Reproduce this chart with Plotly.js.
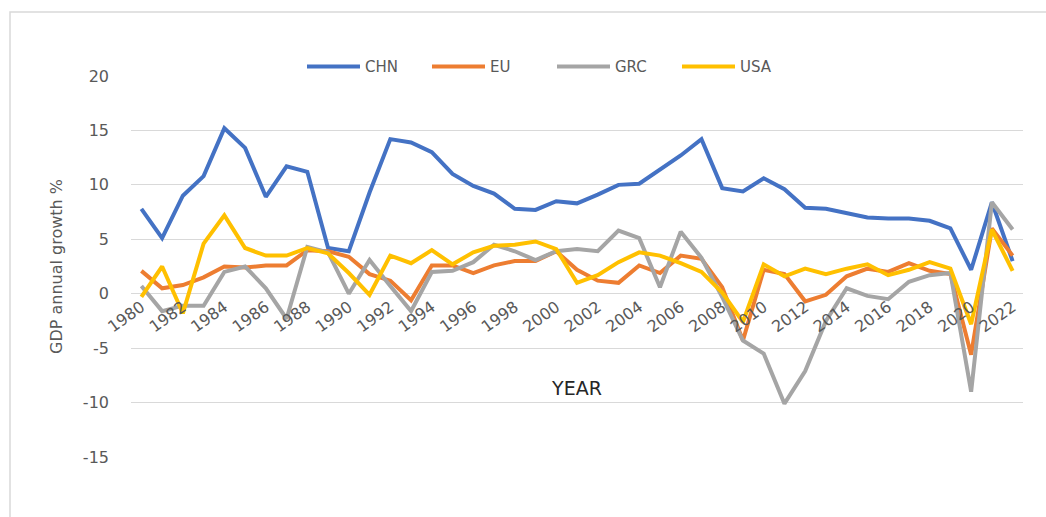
<!DOCTYPE html>
<html>
<head>
<meta charset="utf-8">
<script src="https://cdn.plot.ly/plotly-3.0.1.min.js"></script>
<style>
  html, body { margin: 0; padding: 0; background: #ffffff; }
  #chart { width: 1046px; height: 517px; }
</style>
</head>
<body>
<div id="chart"></div>
<script>
const years = [1980,1981,1982,1983,1984,1985,1986,1987,1988,1989,1990,1991,1992,1993,1994,1995,1996,1997,1998,1999,2000,2001,2002,2003,2004,2005,2006,2007,2008,2009,2010,2011,2012,2013,2014,2015,2016,2017,2018,2019,2020,2021,2022];

const chn = [7.8,5.1,9.0,10.8,15.2,13.4,8.9,11.7,11.2,4.2,3.9,9.3,14.2,13.9,13.0,11.0,9.9,9.2,7.8,7.7,8.5,8.3,9.1,10.0,10.1,11.4,12.7,14.2,9.7,9.4,10.6,9.6,7.9,7.8,7.4,7.0,6.9,6.9,6.7,6.0,2.2,8.4,3.0];
const eu  = [2.1,0.5,0.8,1.5,2.5,2.4,2.6,2.6,4.0,3.9,3.4,1.8,1.2,-0.6,2.6,2.6,1.9,2.6,3.0,3.0,3.9,2.2,1.2,1.0,2.6,1.9,3.5,3.2,0.6,-4.3,2.2,1.8,-0.7,-0.1,1.6,2.3,2.0,2.8,2.1,1.8,-5.6,6.0,3.5];
const grc = [0.7,-1.6,-1.1,-1.1,2.0,2.5,0.5,-2.3,4.3,3.8,0.0,3.1,0.7,-1.6,2.0,2.1,2.9,4.5,3.9,3.1,3.9,4.1,3.9,5.8,5.1,0.6,5.7,3.3,-0.3,-4.3,-5.5,-10.1,-7.1,-2.5,0.5,-0.2,-0.5,1.1,1.7,1.9,-9.0,8.4,5.9];
const usa = [-0.3,2.5,-1.8,4.6,7.2,4.2,3.5,3.5,4.2,3.7,1.9,-0.1,3.5,2.8,4.0,2.7,3.8,4.4,4.5,4.8,4.1,1.0,1.7,2.9,3.8,3.5,2.8,2.0,0.1,-2.6,2.7,1.6,2.3,1.8,2.3,2.7,1.7,2.2,2.9,2.3,-2.8,5.9,2.1];

const seriesNames = ["CHN","EU","GRC","USA"];
const seriesColors = ["#4472C4","#ED7D31","#A5A5A5","#FFC000"];
const seriesData = [chn, eu, grc, usa];

const yTicks = [-15,-10,-5,0,5,10,15,20];
const yTickText = ["-15","-10","-5","0","5","10","15","20"];
const xTicks = [1980,1982,1984,1986,1988,1990,1992,1994,1996,1998,2000,2002,2004,2006,2008,2010,2012,2014,2016,2018,2020,2022];

const FONT = "'DejaVu Sans', 'Open Sans', sans-serif";

const traces = seriesNames.map((n, i) => ({
  x: years,
  y: seriesData[i],
  name: n,
  type: "scatter",
  mode: "lines",
  line: { color: seriesColors[i], width: 4, shape: "linear" },
  hoverinfo: "x+y+name"
}));

const yMin = -15, yMax = 20;

const layout = {
  width: 1046,
  height: 517,
  margin: { l: 131, r: 23, t: 76, b: 60 },
  paper_bgcolor: "#ffffff",
  plot_bgcolor: "#ffffff",
  font: { family: FONT, color: "#595959", size: 15 },
  showlegend: true,
  legend: {
    orientation: "h",
    x: 0.1917,
    xanchor: "left",
    y: 1.024,
    yanchor: "middle",
    font: { family: FONT, size: 15, color: "#595959" },
    itemwidth: 53,
    entrywidth: 57,
    entrywidthmode: "pixels",
    bgcolor: "rgba(0,0,0,0)"
  },
  xaxis: {
    type: "linear",
    range: [1979.5, 2022.5],
    tickvals: xTicks,
    ticktext: xTicks.map(String),
    tickangle: -36,
    showgrid: false,
    zeroline: false,
    showline: false,
    ticks: "",
    anchor: "free",
    position: (0 - yMin) / (yMax - yMin),
    tickfont: { family: FONT, size: 16, color: "#595959" },
    title: {
      text: "YEAR",
      font: { family: FONT, size: 19, color: "#262626" },
      standoff: 46
    }
  },
  yaxis: {
    range: [yMin, yMax],
    tickvals: yTicks,
    ticktext: yTickText,
    showgrid: true,
    gridcolor: "#d9d9d9",
    gridwidth: 1,
    zeroline: true,
    zerolinecolor: "#d9d9d9",
    zerolinewidth: 1,
    showline: false,
    ticks: "",
    ticklabelstandoff: 21,
    tickfont: { family: FONT, size: 16, color: "#595959" },
    title: {
      text: "GDP annual growth %",
      font: { family: FONT, size: 16, color: "#595959" },
      standoff: 16
    }
  },
  shapes: [
    {
      type: "path",
      xref: "paper",
      yref: "paper",
      path: "M " + ((10 - 131) / 892) + " " + ((457 - 520) / 381) +
            " L " + ((10 - 131) / 892) + " " + (1 + (76 - 12) / 381) +
            " L " + ((1050 - 131) / 892) + " " + (1 + (76 - 12) / 381),
      line: { color: "#d9d9d9", width: 1.5 },
      layer: "below"
    }
  ]
};

Plotly.newPlot("chart", traces, layout, { displayModeBar: false, staticPlot: true });
</script>
</body>
</html>
